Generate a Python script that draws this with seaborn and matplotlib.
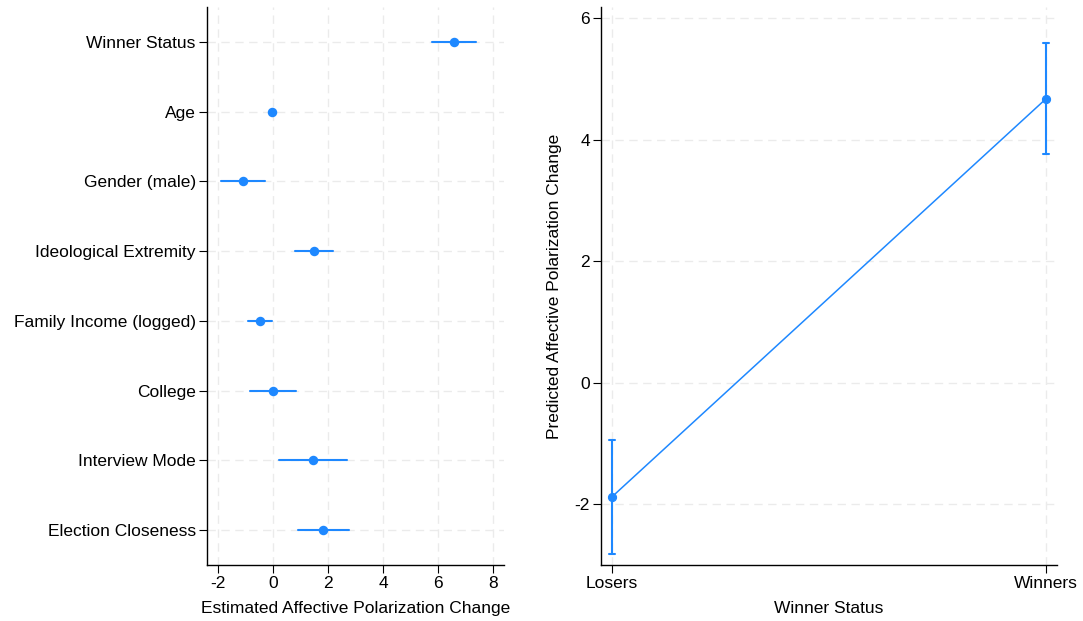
import pandas as pd
import matplotlib
matplotlib.use("Agg")
import matplotlib.pyplot as plt
import seaborn as sns
import numpy as np

# coefficient plot data
variables = ["Winner Status", "Age", "Gender (male)", "Ideological Extremity",
             "Family Income (logged)", "College", "Interview Mode", "Election Closeness"]
coef = [6.56, -0.06, -1.10, 1.48, -0.48, -0.01, 1.43, 1.82]
coef_lo = [5.76, -0.10, -1.89, 0.80, -0.91, -0.86, 0.20, 0.89]
coef_hi = [7.37, -0.02, -0.29, 2.16, -0.05, 0.84, 2.67, 2.77]

# predicted margins
groups = ["Losers", "Winners"]
pred = [-1.88, 4.68]
pred_lo = [-2.82, 3.77]
pred_hi = [-0.94, 5.59]

blue = "#1E88FF"

sns.set_style("white")
plt.rcParams['font.family'] = ['Liberation Sans', 'DejaVu Sans']
plt.rcParams['font.size'] = 12.5
plt.rcParams['axes.unicode_minus'] = False
plt.rcParams['text.color'] = 'black'
plt.rcParams['axes.labelcolor'] = 'black'
plt.rcParams['xtick.color'] = 'black'
plt.rcParams['ytick.color'] = 'black'

# long tables: estimate is the median of (lo, est, hi), CI is min..max
df_coef = pd.DataFrame({
    "var": np.repeat(variables, 3),
    "val": np.column_stack([coef_lo, coef, coef_hi]).ravel(),
})
df_pred = pd.DataFrame({
    "grp": np.repeat(groups, 3),
    "val": np.column_stack([pred_lo, pred, pred_hi]).ravel(),
})
ci_range = lambda v: (v.min(), v.max())

fig = plt.figure(figsize=(10.83, 6.21), dpi=100)
ax1 = fig.add_axes([0.1911, 0.0902, 0.2742, 0.8986])
ax2 = fig.add_axes([0.5549, 0.0902, 0.4211, 0.8986])

sns.pointplot(data=df_coef, x="val", y="var", orient="h", order=variables,
              estimator=np.median, errorbar=ci_range, linestyle="none",
              color=blue, markersize=4.8, err_kws={"linewidth": 1.5}, ax=ax1)
ax1.set_xlim(-2.41, 8.39)
ax1.set_ylim(7.5, -0.5)
ax1.set_xticks([-2, 0, 2, 4, 6, 8])
ax1.set_xlabel("Estimated Affective Polarization Change", labelpad=7)
ax1.set_ylabel("")

sns.pointplot(data=df_pred, x="grp", y="val", order=groups,
              estimator=np.median, errorbar=ci_range, capsize=0.014,
              color=blue, markersize=5.8, linewidth=1.1,
              err_kws={"linewidth": 1.5}, ax=ax2)
ax2.set_xlim(-0.025, 1.025)
ax2.set_ylim(-3.0, 6.19)
ax2.set_yticks([-2, 0, 2, 4, 6])
ax2.set_xlabel("Winner Status", labelpad=7)
ax2.set_ylabel("Predicted Affective Polarization Change", labelpad=9)

for ax in (ax1, ax2):
    ax.grid(True, color="#ebebeb", linestyle=(0, (6, 4)), linewidth=1)
    ax.set_axisbelow(True)
    for s in ("top", "right"):
        ax.spines[s].set_visible(False)
    for s in ("left", "bottom"):
        ax.spines[s].set_color("black")
        ax.spines[s].set_linewidth(1)
    ax.tick_params(axis="both", length=6, width=0.8, color="black",
                   labelcolor="black", labelsize=12.5, pad=2,
                   left=True, bottom=True)

fig.savefig("out.png", dpi=100)
